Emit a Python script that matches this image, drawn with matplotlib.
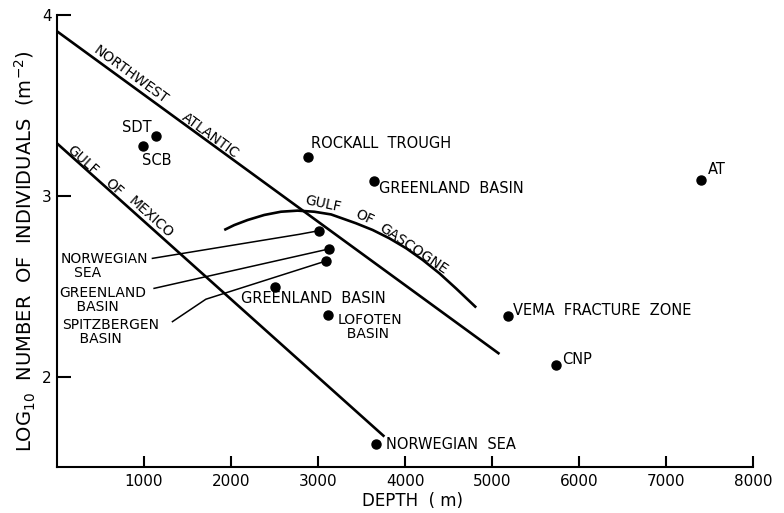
import numpy as np
import matplotlib
matplotlib.use('Agg')
import matplotlib.pyplot as plt

plt.rcParams['font.family'] = ['DejaVu Sans']
plt.rcParams['mathtext.default'] = 'regular'

# stations: depth (m) and log10 abundance (ind. m^-2)
station_names = ['SCB', 'SDT', 'ROCKALL TROUGH', 'GREENLAND BASIN', 'AT',
                 'NORWEGIAN SEA', 'GREENLAND BASIN', 'SPITZBERGEN BASIN',
                 'GREENLAND BASIN', 'LOFOTEN BASIN', 'VEMA FRACTURE ZONE',
                 'CNP', 'NORWEGIAN SEA']
station_depth = [990, 1140, 2890, 3640, 7400, 3010, 3125, 3095,
                 2500, 3120, 5180, 5730, 3667]
station_logn = [3.275, 3.33, 3.215, 3.08, 3.09, 2.807, 2.706, 2.64,
                2.497, 2.34, 2.335, 2.064, 1.627]

# regression lines
nw_atlantic_depth = [0, 5086]
nw_atlantic_logn = [3.91, 2.125]
mexico_depth = [0, 3763]
mexico_logn = [3.29, 1.668]

# Gulf of Gascogne curve
gascogne_depth = [1922, 2037, 2190, 2382, 2574, 2765, 2957, 3150, 3437,
                  3628, 3820, 4013, 4204, 4396, 4588, 4818]
gascogne_logn = [2.811, 2.838, 2.866, 2.894, 2.912, 2.918, 2.912, 2.897, 2.848,
                 2.811, 2.765, 2.710, 2.645, 2.571, 2.487, 2.382]

x_ticks = [1000, 2000, 3000, 4000, 5000, 6000, 7000, 8000]
y_ticks = [2, 3, 4]

fig = plt.figure(figsize=(7.84, 5.13), dpi=100)
ax = fig.add_axes([0.0727, 0.0897, 0.8878, 0.881])

ax.set_xlim(0, 8000)
ax.set_ylim(1.5, 4)

line_kw = dict(color='black', lw=1.9, solid_joinstyle='round', solid_capstyle='butt')
ax.plot(nw_atlantic_depth, nw_atlantic_logn, **line_kw)
ax.plot(mexico_depth, mexico_logn, **line_kw)
ax.plot(gascogne_depth, gascogne_logn, **line_kw)

ax.plot(station_depth, station_logn, 'o', color='black', ms=6.5, zorder=5)

# leader lines from the left-hand labels to their stations
leaders = [
    ([1097, 2785, 3010], [2.654, 2.787, 2.807]),
    ([1116, 3125], [2.488, 2.706]),
    ([1327, 1711, 3095], [2.304, 2.428, 2.64]),
]
for lx, ly in leaders:
    ax.plot(lx, ly, color='black', lw=1.1)

fs = 10.5
# station labels: text, x, y, horizontal alignment
labels = [
    ('SDT', 1093, 3.378, 'right'),
    ('SCB', 982, 3.198, 'left'),
    ('ROCKALL  TROUGH', 2923, 3.287, 'left'),
    ('GREENLAND  BASIN', 3705, 3.043, 'left'),
    ('AT', 7480, 3.143, 'left'),
    ('VEMA  FRACTURE  ZONE', 5236, 2.368, 'left'),
    ('CNP', 5811, 2.097, 'left'),
    ('NORWEGIAN  SEA', 3786, 1.622, 'left'),
    ('GREENLAND  BASIN', 2114, 2.431, 'left'),
]
for txt, lx, ly, ha in labels:
    ax.text(lx, ly, txt, ha=ha, va='center', fontsize=fs)

# two-line labels (top-left corner of the block)
block_labels = [
    ('LOFOTEN\n  BASIN', 3226, 2.350),
    ('NORWEGIAN\n   SEA', 46, 2.688),
    ('GREENLAND\n    BASIN', 23, 2.500),
    ('SPITZBERGEN\n    BASIN', 58, 2.323),
]
for txt, lx, ly in block_labels:
    ax.text(lx, ly, txt, ha='left', va='top', fontsize=10,
            linespacing=0.95, multialignment='left')


def line_angle(xs, ys):
    p = ax.transData.transform(list(zip(xs, ys)))
    return np.degrees(np.arctan2(p[-1, 1] - p[0, 1], p[-1, 0] - p[0, 0]))


nw_rot = line_angle(nw_atlantic_depth, nw_atlantic_logn)
mx_rot = line_angle(mexico_depth, mexico_logn)

for txt, lx, ly in [('NORTHWEST', 846, 3.668), ('ATLANTIC', 1761, 3.336)]:
    ax.text(lx, ly, txt, rotation=nw_rot, rotation_mode='anchor',
            ha='center', va='center', fontsize=10)
for txt, lx, ly in [('GULF', 299, 3.198), ('OF', 656, 3.049), ('MEXICO', 1082, 2.883)]:
    ax.text(lx, ly, txt, rotation=mx_rot, rotation_mode='anchor',
            ha='center', va='center', fontsize=10)
for txt, lx, ly, rot in [('GULF', 3053, 2.958, -12), ('OF', 3533, 2.880, -25),
                         ('GASCOGNE', 4097, 2.705, -34)]:
    ax.text(lx, ly, txt, rotation=rot, rotation_mode='anchor',
            ha='center', va='center', fontsize=10)

ax.spines['top'].set_visible(False)
ax.spines['right'].set_visible(False)
ax.spines['left'].set_linewidth(1.5)
ax.spines['bottom'].set_linewidth(1.5)

ax.set_xticks(x_ticks)
ax.set_yticks(y_ticks)
ax.tick_params(axis='x', direction='in', length=8, width=1.5, pad=5, labelsize=11)
ax.tick_params(axis='y', direction='in', length=10, width=1.5, pad=4, labelsize=11)

ax.set_xlabel('DEPTH  ( m)', fontsize=12)
ax.xaxis.set_label_coords(0.511, -0.055)
ax.set_ylabel('LOG$_{10}$  NUMBER  OF  INDIVIDUALS  (m$^{-2}$)', fontsize=14)
ax.yaxis.set_label_coords(-0.028, 0.478)

fig.savefig('out.png', dpi=100)
